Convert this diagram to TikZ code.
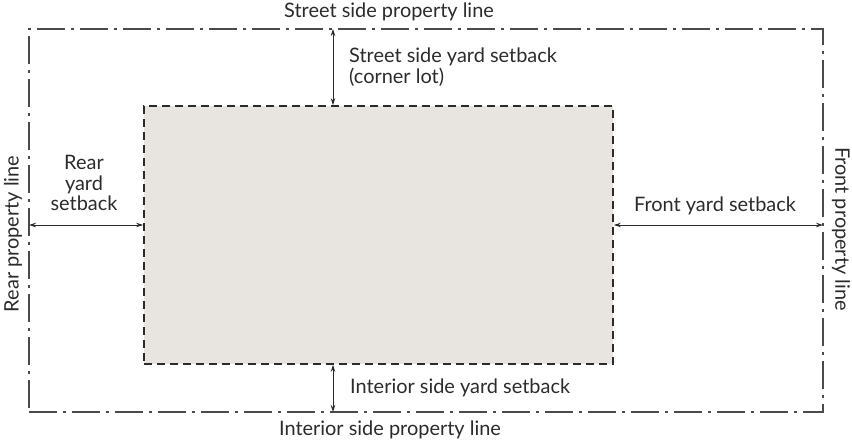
\documentclass[tikz,border=0pt]{standalone}
\usepackage{fontspec}
\setmainfont{Lato}
\usepackage{tikz}
\usetikzlibrary{arrows.meta,positioning}
\definecolor{ink}{HTML}{2b2b2b}
\definecolor{lineink}{HTML}{4a4a4a}
\definecolor{pad}{HTML}{e8e4df}

\begin{document}
\begin{tikzpicture}[x=1bp,y=-1bp,font=\fontsize{20}{21}\selectfont,
  propline/.style={draw=lineink,line width=1.3bp,
    dash pattern=on 28bp off 6bp on 3bp off 6bp},
  bldg/.style={draw=ink,fill=pad,line width=1.8bp,
    dash pattern=on 8bp off 5bp},
  dim/.style={draw=ink,line width=0.8bp,{Stealth[length=7bp,width=4.5bp]}-{Stealth[length=7bp,width=4.5bp]}},
  lbl/.style={text=ink,inner sep=0pt}]
  \useasboundingbox (0,0) rectangle (852,447);
  % property lines and buildable area
  \node[propline,minimum width=794bp,minimum height=383bp,inner sep=0pt] (lot) at (426,220.5) {};
  \node[bldg,minimum width=469bp,minimum height=258bp,inner sep=0pt] (area) at (378.5,235) {};
  % setback arrows
  \coordinate (st) at (333,29);
  \coordinate (in) at (333,412);
  \coordinate (rr) at (29,225);
  \coordinate (fr) at (823,225);
  \draw[dim] (st) -- (st |- area.north);
  \draw[dim] (in |- area.south) -- (in);
  \draw[dim] (rr) -- (rr -| area.west);
  \draw[dim] (fr -| area.east) -- (fr);
  % labels
  \node[lbl] (stline) at (389,12) {Street side property line};
  \node[lbl,anchor=west,align=left] (stback) at (349,67) {Street side yard setback\\(corner lot)};
  \node[lbl,align=center] (rrback) at (84,183) {Rear\\yard\\setback};
  \node[lbl,rotate=90] (rrline) at (13,234) {Rear property line};
  \node[lbl] (frback) at (715,206) {Front yard setback};
  \node[lbl,rotate=-90] (frline) at (841,229) {Front property line};
  \node[lbl,anchor=west] (inback) at (350,388) {Interior side yard setback};
  \node[lbl] (inline) at (390,430) {Interior side property line};
\end{tikzpicture}
\end{document}
